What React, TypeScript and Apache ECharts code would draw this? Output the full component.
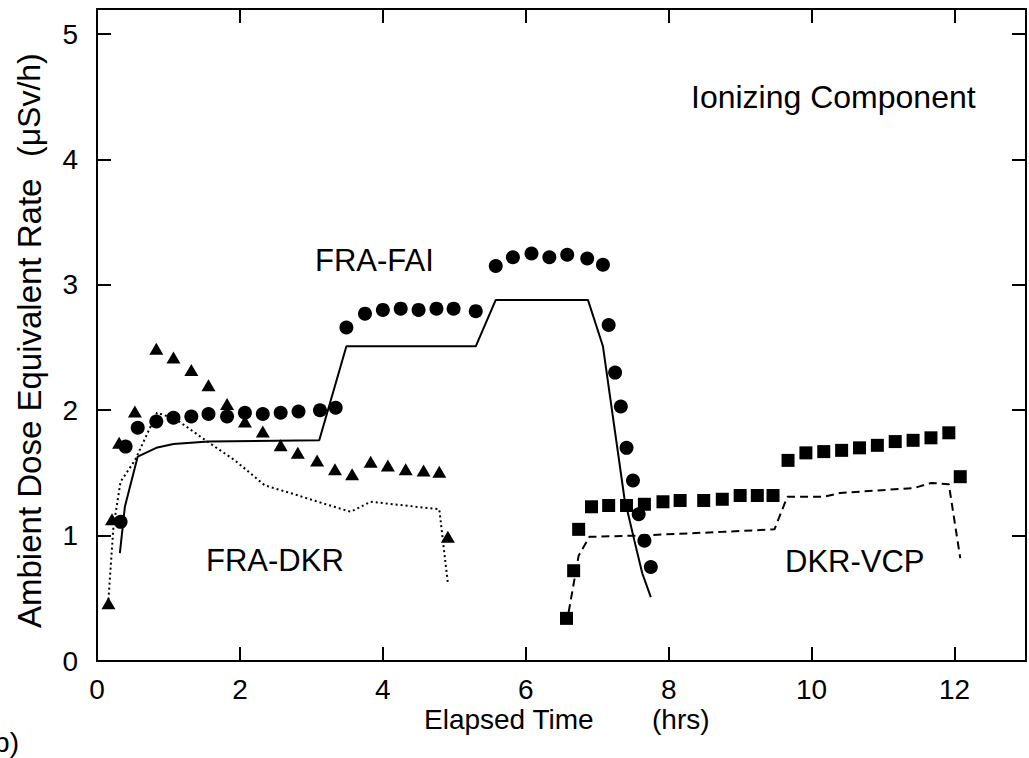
import React, { useEffect, useRef } from "react";
import * as echarts from "echarts";

const FONT = '"Liberation Sans", Arial, Helvetica, sans-serif';

// FRA-FAI measured points (circles) and calculated curve (solid)
const fraFaiPoints: number[][] = [
  [0.33, 1.11], [0.40, 1.71], [0.57, 1.86], [0.83, 1.91], [1.07, 1.94], [1.32, 1.95],
  [1.56, 1.97], [1.82, 1.95], [2.07, 1.98], [2.32, 1.97], [2.57, 1.98], [2.82, 1.99],
  [3.12, 2.00], [3.34, 2.02], [3.49, 2.66], [3.75, 2.77], [4.00, 2.80], [4.25, 2.81],
  [4.50, 2.80], [4.75, 2.81], [4.99, 2.81], [5.30, 2.79], [5.58, 3.15], [5.82, 3.22],
  [6.08, 3.25], [6.33, 3.22], [6.58, 3.24], [6.86, 3.21], [7.08, 3.16], [7.16, 2.68],
  [7.25, 2.30], [7.33, 2.03], [7.41, 1.70], [7.50, 1.44], [7.58, 1.17], [7.66, 0.96],
  [7.75, 0.75],
];
const fraFaiCurve: number[][] = [
  [0.32, 0.86], [0.39, 1.23], [0.57, 1.63], [0.83, 1.70], [1.07, 1.73], [1.56, 1.75],
  [3.11, 1.76], [3.49, 2.51], [5.30, 2.51], [5.58, 2.88], [6.87, 2.88], [7.08, 2.51],
  [7.38, 1.30], [7.52, 0.96], [7.63, 0.70], [7.75, 0.51],
];

// FRA-DKR measured points (triangles) and calculated curve (dotted)
const fraDkrPoints: number[][] = [
  [0.16, 0.46], [0.21, 1.13], [0.31, 1.74], [0.53, 1.99], [0.83, 2.49], [1.07, 2.42],
  [1.32, 2.32], [1.56, 2.20], [1.82, 2.05], [2.07, 1.91], [2.32, 1.83], [2.57, 1.72],
  [2.81, 1.66], [3.08, 1.60], [3.33, 1.53], [3.57, 1.49], [3.83, 1.59], [4.07, 1.56],
  [4.32, 1.53], [4.57, 1.52], [4.79, 1.51], [4.91, 0.99],
];
const fraDkrCurve: number[][] = [
  [0.16, 0.49], [0.23, 1.07], [0.33, 1.43], [0.53, 1.60], [0.84, 1.98], [1.10, 1.93],
  [1.52, 1.76], [1.93, 1.60], [2.35, 1.40], [2.76, 1.33], [3.09, 1.27], [3.55, 1.19],
  [3.83, 1.27], [4.79, 1.21], [4.91, 0.62],
];

// DKR-VCP measured points (squares) and calculated curve (dashed)
const dkrVcpPoints: number[][] = [
  [6.57, 0.34], [6.67, 0.72], [6.74, 1.05], [6.92, 1.23], [7.16, 1.24], [7.41, 1.24],
  [7.66, 1.25], [7.92, 1.27], [8.16, 1.28], [8.49, 1.28], [8.75, 1.29], [9.00, 1.32],
  [9.24, 1.32], [9.46, 1.32], [9.67, 1.60], [9.92, 1.66], [10.17, 1.67], [10.42, 1.68],
  [10.67, 1.70], [10.92, 1.72], [11.17, 1.75], [11.42, 1.76], [11.67, 1.78], [11.92, 1.82],
  [12.08, 1.47],
];
const dkrVcpCurve: number[][] = [
  [6.60, 0.39], [6.74, 0.84], [6.89, 0.99], [7.56, 1.00], [8.76, 1.03], [9.48, 1.05],
  [9.66, 1.31], [10.17, 1.31], [10.40, 1.34], [11.44, 1.38], [11.67, 1.42], [11.92, 1.41],
  [12.08, 0.82],
];

const xRange = [0, 13];
const yRange = [0, 5.2];
const xStep = 2;
const yStep = 1;

const seriesLabels = ["FRA-FAI", "FRA-DKR", "DKR-VCP"];
const titleText = "Ionizing Component";

export default function App() {
  const ref = useRef<HTMLDivElement>(null);

  useEffect(() => {
    if (!ref.current) return;
    const chart = echarts.init(ref.current, undefined, { renderer: "svg" });

    const axisCommon = {
      type: "value" as const,
      splitLine: { show: false },
      axisLine: { show: true, onZero: false, lineStyle: { color: "#000", width: 2 } },
      axisTick: { show: true, inside: true, length: 14, lineStyle: { color: "#000", width: 2 } },
    };

    const txt = (text: string, x: number, y: number, size: number, align = "left") => ({
      type: "text",
      x,
      y,
      silent: true,
      style: {
        text,
        fill: "#000",
        fontSize: size,
        lineHeight: size,
        fontFamily: FONT,
        textAlign: align,
        textVerticalAlign: "middle",
      },
    });

    chart.setOption({
      animation: false,
      backgroundColor: "#fff",
      grid: { left: 97, top: 9, right: 2, height: 652 },
      xAxis: [
        {
          ...axisCommon,
          min: xRange[0],
          max: xRange[1],
          interval: xStep,
          position: "bottom",
          axisLabel: {
            show: true,
            margin: 14,
            fontSize: 28,
            lineHeight: 28,
            color: "#000",
            fontFamily: FONT,
            formatter: (v: number) => (v % 2 === 0 ? String(v) : ""),
          },
        },
        {
          ...axisCommon,
          min: xRange[0],
          max: xRange[1],
          interval: xStep,
          position: "top",
          axisLabel: { show: false },
        },
      ],
      yAxis: [
        {
          ...axisCommon,
          min: yRange[0],
          max: yRange[1],
          interval: yStep,
          position: "left",
          axisLabel: {
            show: true,
            margin: 19,
            fontSize: 28,
            color: "#000",
            fontFamily: FONT,
            formatter: (v: number) => (Number.isInteger(v) ? String(v) : ""),
          },
        },
        {
          ...axisCommon,
          min: yRange[0],
          max: yRange[1],
          interval: yStep,
          position: "right",
          axisLabel: { show: false },
        },
      ],
      series: [
        {
          type: "line",
          data: fraFaiCurve,
          symbol: "none",
          lineStyle: { color: "#000", width: 2 },
          z: 2,
        },
        {
          type: "line",
          data: fraDkrCurve,
          symbol: "none",
          lineStyle: { color: "#000", width: 2, type: [2, 3] },
          z: 2,
        },
        {
          type: "line",
          data: dkrVcpCurve,
          symbol: "none",
          lineStyle: { color: "#000", width: 2, type: [8, 5] },
          z: 2,
        },
        {
          type: "scatter",
          data: fraFaiPoints,
          symbol: "circle",
          symbolSize: 14,
          itemStyle: { color: "#000", opacity: 1 },
          z: 3,
        },
        {
          type: "scatter",
          data: fraDkrPoints,
          symbol: "triangle",
          symbolSize: [14, 12],
          itemStyle: { color: "#000", opacity: 1 },
          z: 3,
        },
        {
          type: "scatter",
          data: dkrVcpPoints,
          symbol: "rect",
          symbolSize: 13,
          itemStyle: { color: "#000", opacity: 1 },
          z: 3,
        },
      ],
      graphic: [
        txt(titleText, 691, 97, 32),
        txt(seriesLabels[0], 315, 260, 31),
        txt(seriesLabels[1], 206, 560, 31),
        txt(seriesLabels[2], 785, 561, 31),
        txt("Elapsed Time", 424, 719, 28),
        txt("(hrs)", 652, 719, 28),
        txt("(b)", 19, 742, 28, "right"),
        {
          type: "group",
          x: 29,
          y: 628,
          rotation: Math.PI / 2,
          silent: true,
          children: [
            txt("Ambient Dose Equivalent Rate", 0, 0, 33),
            txt("(\u03bcSv/h)", 471, 0, 32),
          ],
        },
      ],
    });

    return () => chart.dispose();
  }, []);

  return (
    <div
      ref={ref}
      style={{ position: "fixed", left: 0, top: 0, width: 1029, height: 758, background: "#fff" }}
    />
  );
}
